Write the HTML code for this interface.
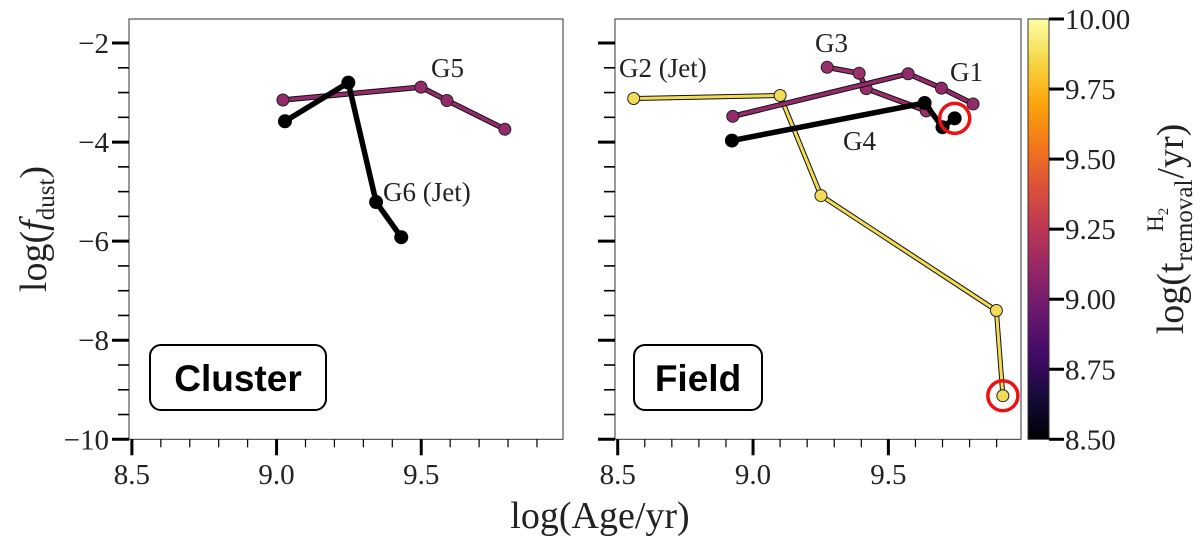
<!DOCTYPE html>
<html><head><meta charset="utf-8">
<style>
html,body{margin:0;padding:0;background:#fff;}
svg{display:block;font-family:"Liberation Serif",serif;}
text{font-family:"Liberation Serif",serif;}
</style></head>
<body>
<svg id="chart" width="1200" height="545" viewBox="0 0 1200 545" xmlns="http://www.w3.org/2000/svg">
<defs>
<linearGradient id="inferno" x1="0" y1="1" x2="0" y2="0">
<stop offset="0" stop-color="#000004"/><stop offset="0.1" stop-color="#160b39"/><stop offset="0.2" stop-color="#420a68"/><stop offset="0.3" stop-color="#6a176e"/><stop offset="0.4" stop-color="#932667"/><stop offset="0.5" stop-color="#bc3754"/><stop offset="0.6" stop-color="#dd513a"/><stop offset="0.7" stop-color="#f37819"/><stop offset="0.8" stop-color="#fca50a"/><stop offset="0.9" stop-color="#f6d746"/><stop offset="1" stop-color="#fcffa4"/>
</linearGradient>
</defs>
<g id="layer"></g>
</svg>
<script>
// ---- data ----
const xTicks = [8.5, 9.0, 9.5];
const xTickLabels = ["8.5", "9.0", "9.5"];
const yTicks = [-2, -4, -6, -8, -10];
const yTickLabels = ["\u22122", "\u22124", "\u22126", "\u22128", "\u221210"];
const cbTicks = [8.5, 8.75, 9.0, 9.25, 9.5, 9.75, 10.0];
const cbTickLabels = ["8.50", "8.75", "9.00", "9.25", "9.50", "9.75", "10.00"];

const g5Age = [9.022, 9.499, 9.589, 9.789];
const g5Dust = [-3.15, -2.89, -3.16, -3.74];
const g6Age = [9.029, 9.248, 9.344, 9.431];
const g6Dust = [-3.58, -2.80, -5.21, -5.92];

const g2Age = [8.559, 9.100, 9.251, 9.899, 9.923];
const g2Dust = [-3.12, -3.06, -5.08, -7.40, -9.12];
const g3Age = [9.274, 9.392, 9.418, 9.640];
const g3Dust = [-2.49, -2.61, -2.92, -3.37];
const g1Age = [8.925, 9.573, 9.696, 9.813];
const g1Dust = [-3.48, -2.62, -2.91, -3.23];
const g4Age = [8.922, 9.634, 9.700, 9.745];
const g4Dust = [-3.97, -3.21, -3.70, -3.52];

const XMIN = 8.49, XMAX = 9.99, YMIN = -10, YMAX = -1.515;
const NS = "http://www.w3.org/2000/svg";
const layer = document.getElementById('layer');
function el(tag, attrs, parent) {
  const e = document.createElementNS(NS, tag);
  for (const k in attrs) e.setAttribute(k, attrs[k]);
  (parent || layer).appendChild(e);
  return e;
}
const panels = [
  {name: 'cluster', x0: 129, x1: 563, y0: 19, y1: 439.3, ylabels: true},
  {name: 'field', x0: 615, x1: 1021, y0: 19, y1: 439.3, ylabels: false}
];
function sx(p, v) { return p.x0 + (v - XMIN) / (XMAX - XMIN) * (p.x1 - p.x0); }
function sy(p, v) { return p.y1 - (v - YMIN) / (YMAX - YMIN) * (p.y1 - p.y0); }

panels.forEach(p => {
  const g = el('g', {});
  
  
  const fr = el('rect', {x: p.x0, y: p.y0, width: p.x1 - p.x0, height: p.y1 - p.y0, fill: 'none', stroke: '#333', 'stroke-width': 1}, g);
  
  
  for (let v = 8.5; v <= 9.95; v += 0.1) {
    const vv = Math.round(v * 10) / 10;
    const major = Math.abs(vv * 2 - Math.round(vv * 2)) < 1e-6;
    const X = sx(p, vv);
    const t = el('line', {x1: X, x2: X, y1: p.y1, y2: p.y1 + (major ? 16 : 8), stroke: '#000', 'stroke-width': major ? 3 : 1.2}, g);
    
    
  }
  xTicks.forEach((v, i) => {
    const t = el('text', {x: sx(p, v), y: 484, 'text-anchor': 'middle', 'font-size': 29, fill: '#222'}, g);
    t.textContent = xTickLabels[i];
    
    
  });
  for (let v = -10; v <= -1.6; v += 0.5) {
    const major = Math.abs(v - Math.round(v / 2) * 2) < 1e-6;
    const Y = sy(p, v);
    const t = el('line', {x1: p.x0 - (major ? 17 : 11), x2: p.x0, y1: Y, y2: Y, stroke: '#000', 'stroke-width': major ? 3 : 1.6}, g);
    
    
  }
  if (p.ylabels) {
    yTicks.forEach((v, i) => {
      const t = el('text', {x: p.x0 - 20, y: sy(p, v) + 10, 'text-anchor': 'end', 'font-size': 29, fill: '#222'}, g);
      t.textContent = yTickLabels[i];
      
      
    });
  }
});

function series(p, xs, ys, color, lw, r, outline, name) {
  const g = el('g', {});
  
  
  const pts = xs.map((x, i) => sx(p, x) + ',' + sy(p, ys[i])).join(' ');
  if (outline) el('polyline', {points: pts, fill: 'none', stroke: '#111', 'stroke-width': lw + 2, 'stroke-linejoin': 'round'}, g);
  el('polyline', {points: pts, fill: 'none', stroke: color, 'stroke-width': lw, 'stroke-linejoin': 'round'}, g);
  xs.forEach((x, i) => {
    const c = el('circle', {cx: sx(p, x), cy: sy(p, ys[i]), r: r, fill: color, stroke: outline ? '#222' : color, 'stroke-width': 1}, g);
    
    
  });
}
const L = panels[0], R = panels[1];
const PURPLE = '#932a6c', YEL = '#f3dc55', BLK = '#000';
series(L, g5Age, g5Dust, PURPLE, 3.5, 6, true, 'g5-track');
series(L, g6Age, g6Dust, BLK, 5.5, 6.5, false, 'g6-track');
series(R, g2Age, g2Dust, YEL, 3, 6, true, 'g2-track');
series(R, g3Age, g3Dust, '#9a2f6c', 3.5, 6, true, 'g3-track');
series(R, g1Age, g1Dust, PURPLE, 3.5, 6, true, 'g1-track');
series(R, g4Age, g4Dust, BLK, 5.5, 6.5, false, 'g4-track');

function ring(p, x, y, name) {
  const c = el('circle', {cx: sx(p, x), cy: sy(p, y), r: 15, fill: 'none', stroke: '#ee1111', 'stroke-width': 3.5});
  
  
}
ring(R, g4Age[3], g4Dust[3], 'g4-highlight-ring');
ring(R, g2Age[4], g2Dust[4], 'g2-highlight-ring');

function label(x, y, txt, name) {
  const t = el('text', {x: x, y: y, 'font-size': 27, fill: '#222'});
  t.textContent = txt;
  
  
}
label(431, 77, 'G5', 'g5-label');
label(383, 201, 'G6 (Jet)', 'g6-label');
label(619, 77, 'G2 (Jet)', 'g2-label');
label(815, 52, 'G3', 'g3-label');
label(950, 81, 'G1', 'g1-label');
label(843, 150, 'G4', 'g4-label');

function box(x, w, txt, name) {
  const g = el('g', {});
  
  
  el('rect', {x: x, y: 345, width: w, height: 65, rx: 11, fill: '#fff', stroke: '#000', 'stroke-width': 2}, g);
  const t = el('text', {x: x + w / 2, y: 391, 'text-anchor': 'middle', 'font-size': 37, 'font-weight': 'bold', fill: '#000'}, g);
  t.setAttribute('style', 'font-family:"Liberation Sans",sans-serif');
  t.textContent = txt;
}
box(150, 176, 'Cluster', 'cluster-box');
box(634, 128, 'Field', 'field-box');

const CB = {x: 1028, w: 21, y0: 19, y1: 439.3, vmin: 8.5, vmax: 10};
const cbg = el('g', {});


el('rect', {x: CB.x, y: CB.y0, width: CB.w, height: CB.y1 - CB.y0, fill: 'url(#inferno)', stroke: '#333', 'stroke-width': 1}, cbg);
cbTicks.forEach((v, i) => {
  const Y = CB.y1 - (v - CB.vmin) / (CB.vmax - CB.vmin) * (CB.y1 - CB.y0);
  el('line', {x1: CB.x + CB.w, x2: CB.x + CB.w + 15, y1: Y, y2: Y, stroke: '#000', 'stroke-width': 3}, cbg);
  const t = el('text', {x: CB.x + CB.w + 16, y: Y + 10, 'font-size': 29, fill: '#222'}, cbg);
  t.textContent = cbTickLabels[i];
  
  
});

const yt = el('text', {x: 0, y: 0, transform: 'translate(46,229) rotate(-90)', 'text-anchor': 'middle', 'font-size': 38, fill: '#222'});
yt.innerHTML = 'log(<tspan font-style="italic">f</tspan><tspan font-size="25" dy="8">dust</tspan><tspan dy="-8">)</tspan>';


const xt = el('text', {x: 600, y: 528, 'text-anchor': 'middle', 'font-size': 38, fill: '#222'});
xt.textContent = 'log(Age/yr)';



// colorbar title built from pieces, positioned along rotated axis
const ctg = el('g', {transform: 'translate(1183,229) rotate(-90)'});


const pA = el('text', {x: 0, y: 0, 'font-size': 38, fill: '#222'}, ctg); pA.textContent = 'log(t';
const pB = el('text', {x: 0, y: 9, 'font-size': 25, fill: '#222'}, ctg); pB.textContent = 'removal';
const pH = el('text', {x: 0, y: -20, 'font-size': 23, fill: '#222'}, ctg); pH.textContent = 'H';
const p2 = el('text', {x: 0, y: -15, 'font-size': 15, fill: '#222'}, ctg); p2.textContent = '2';
const pC = el('text', {x: 0, y: 0, 'font-size': 38, fill: '#222'}, ctg); pC.textContent = '/yr)';
const wA = pA.getComputedTextLength(), wB = pB.getComputedTextLength(), wH = pH.getComputedTextLength(), wC = pC.getComputedTextLength();
const total = wA + wB + wC + 2;
let cx = -total / 2;
pA.setAttribute('x', cx); cx += wA + 1;
pB.setAttribute('x', cx);
pH.setAttribute('x', cx + wB / 2 - wH / 2 - 3);
p2.setAttribute('x', cx + wB / 2 + wH / 2 - 3);
cx += wB + 1;
pC.setAttribute('x', cx);
</script>
</body></html>
